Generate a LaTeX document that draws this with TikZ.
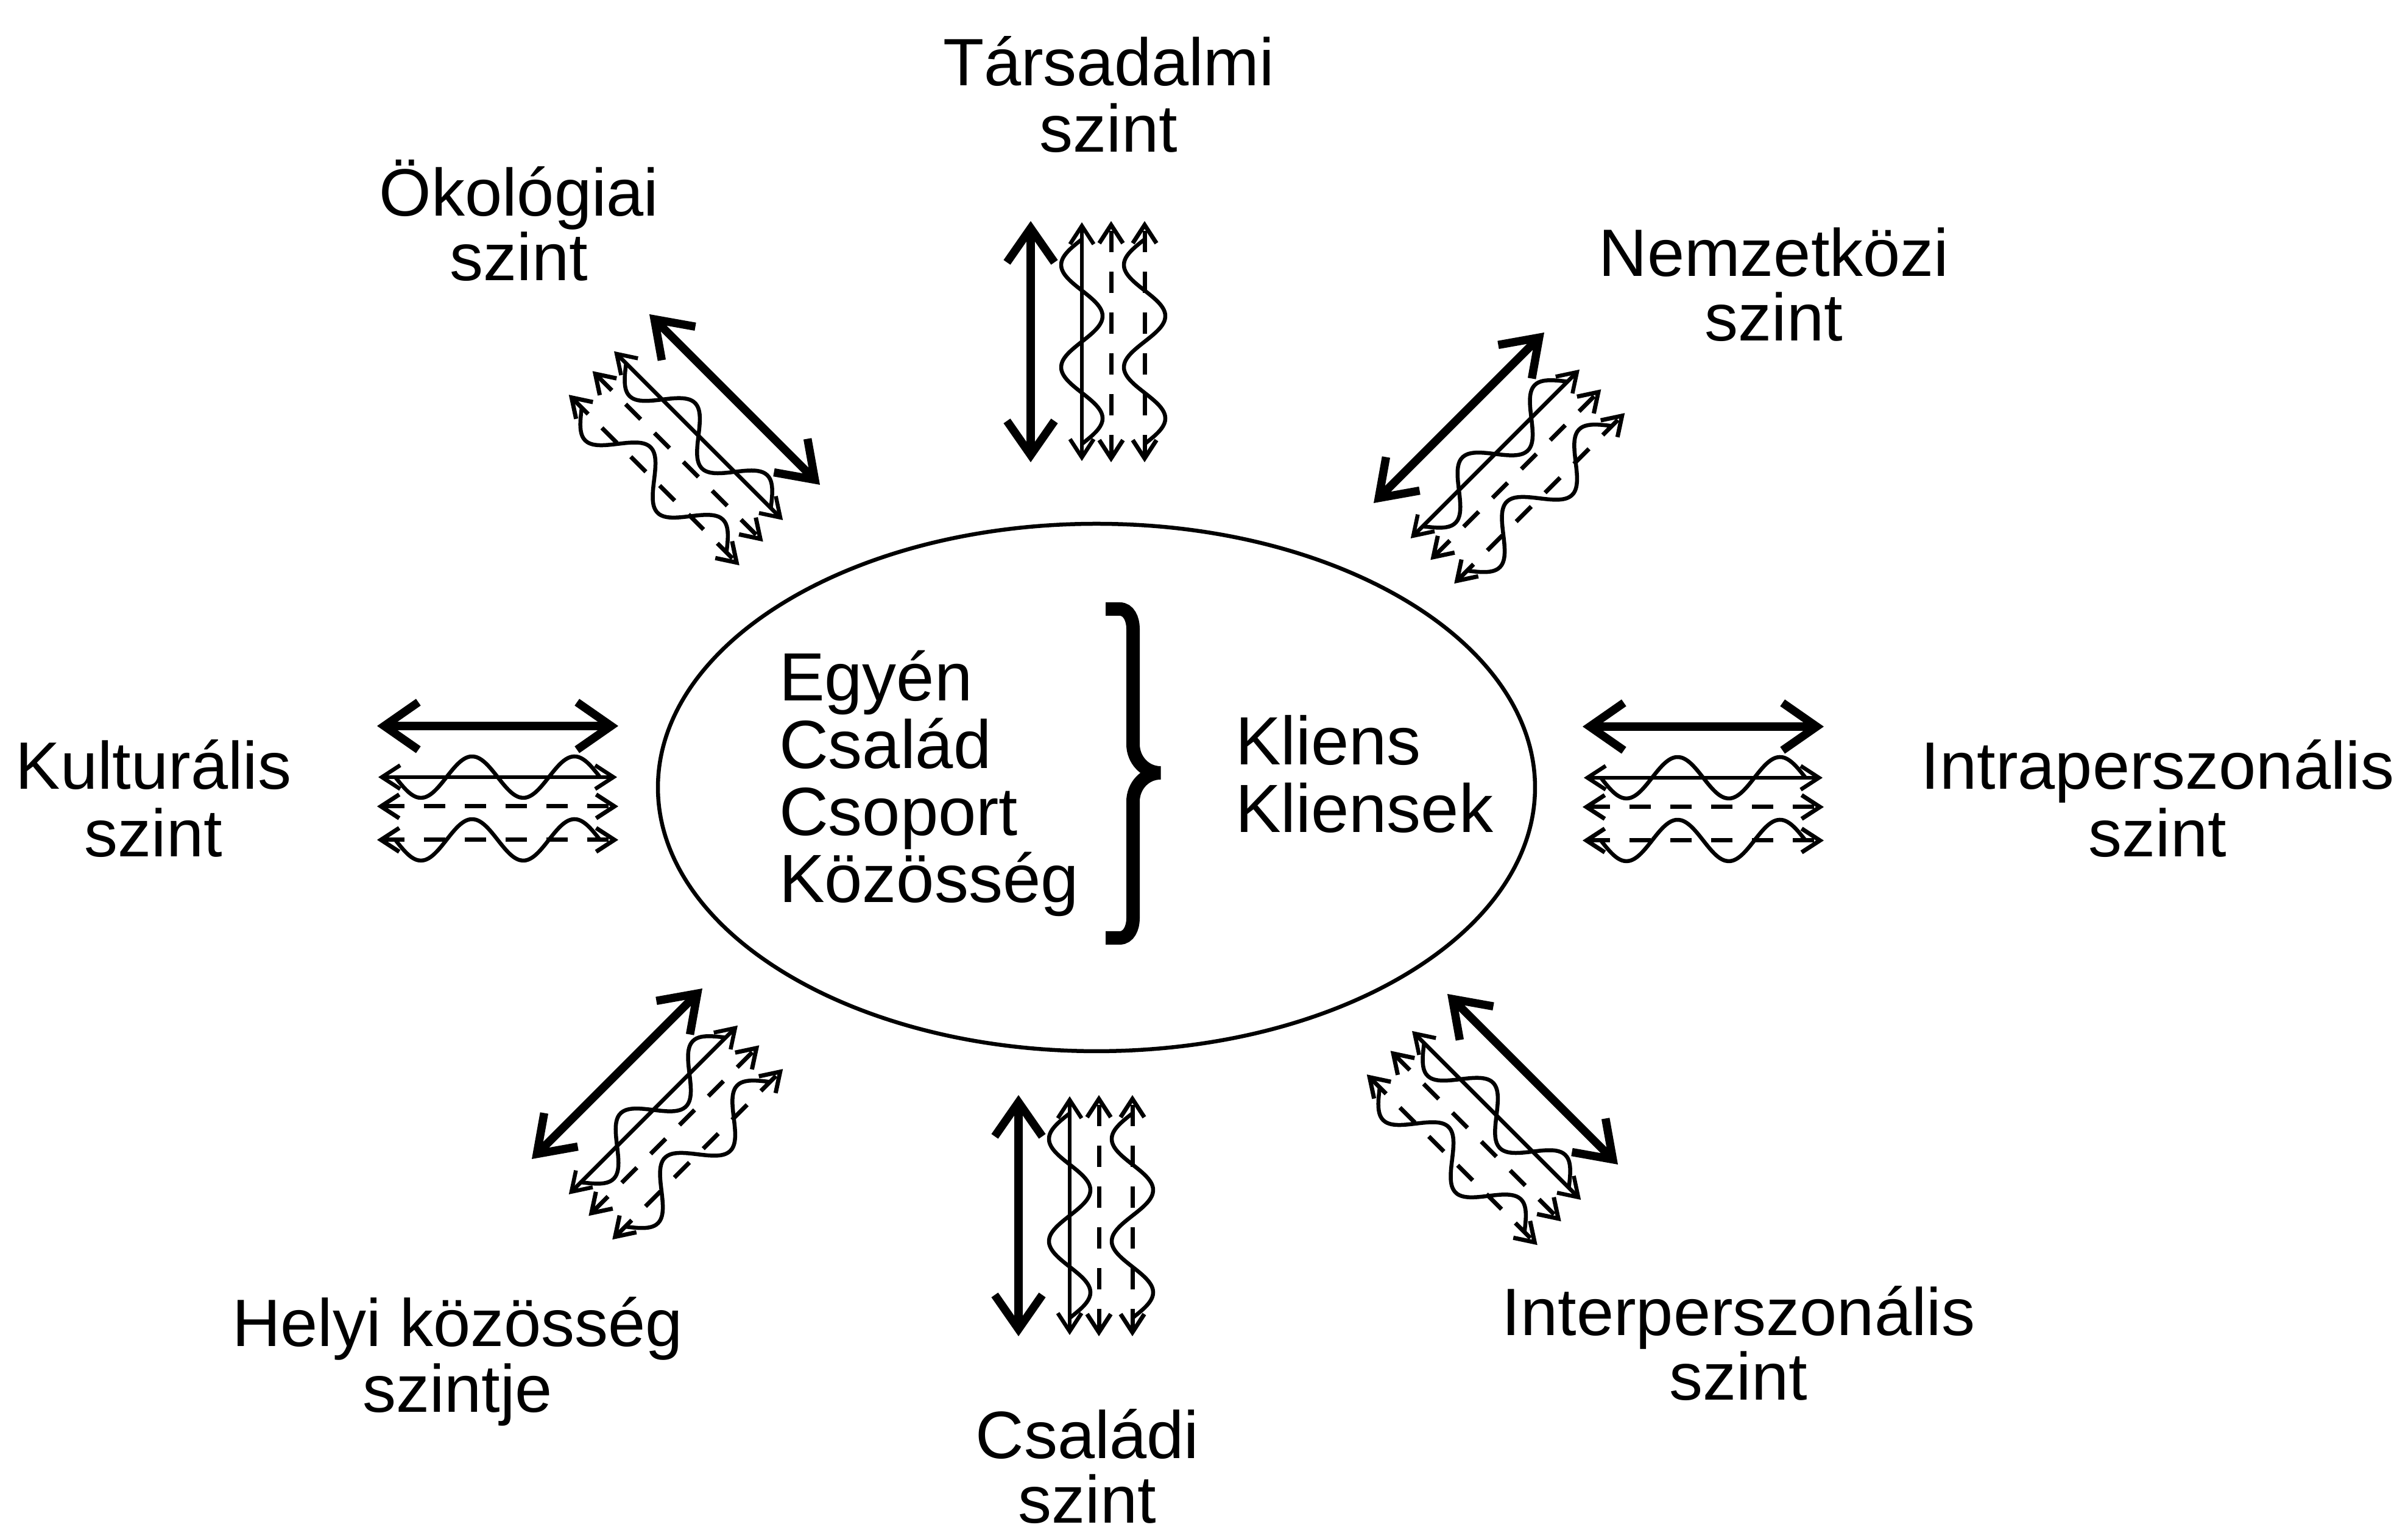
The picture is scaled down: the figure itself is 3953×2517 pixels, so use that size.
\documentclass[tikz,border=0pt]{standalone}
\usepackage{fontspec}
\setmainfont{Liberation Sans}
\usetikzlibrary{arrows.meta,shapes.geometric}
\tikzset{
  thickarr/.style={line width=1.35pt,
    {Straight Barb[length=5.6pt,width=7.8pt]}-{Straight Barb[length=5.6pt,width=7.8pt]}},
  thinarr/.style={line width=0.65pt,
    {Straight Barb[length=3pt,width=3.9pt]}-{Straight Barb[length=3pt,width=3.9pt]}},
  dasharr/.style={thinarr, line width=0.7pt, dash pattern=on 3.5pt off 3.2pt},
  wavy/.style={line width=0.65pt, domain=-168:168, samples=80, smooth, variable=\t},
  lbl/.style={font=\fontsize{11pt}{13pt}\selectfont, inner sep=0pt, anchor=base},
  ctext/.style={font=\fontsize{11.2pt}{13pt}\selectfont, inner sep=0pt, anchor=base west},
}
\newcommand\arrgroup[2]{%
  \begin{scope}[shift={#1}, rotate=#2]
    \draw[thickarr] (-198,0) -- (198,0);
    \draw[thinarr] (-196,84) -- (196,84);
    \draw[wavy] plot (\t, {84+34*sin((\t+168)/168*360)});
    \draw[dasharr] (-198,132) -- (198,132);
    \draw[dasharr] (-198,187) -- (198,187);
    \draw[wavy] plot (\t, {187+34*sin((\t+168)/168*360)});
  \end{scope}}
\begin{document}
\begin{tikzpicture}[x=0.1pt, y=-0.1pt]
\useasboundingbox (0,0) rectangle (3953,2517);
\fill[white] (0,0) rectangle (3953,2517);

% central ellipse
\node[draw, line width=0.65pt, ellipse, minimum width=144pt, minimum height=86.6pt, inner sep=0pt] (ell) at (1800,1293) {};

% inner texts
\node[ctext] (egyen) at (1277,1151) {Egyén};
\node[ctext] (csalad) at (1277,1262) {Család};
\node[ctext] (csoport) at (1277,1372) {Csoport};
\node[ctext] (kozosseg) at (1277,1482) {Közösség};
\node[ctext] (kliens) at (2026,1256) {Kliens};
\node[ctext] (kliensek) at (2026,1367) {Kliensek};

% brace
\draw[line width=2.2pt, line cap=butt] (1815,1000) -- (1838,1000) to[out=0,in=90] (1860,1032)
  -- (1860,1222) to[out=-90,in=180] (1905,1269) to[out=180,in=90] (1860,1316)
  -- (1860,1508) to[out=-90,in=0] (1838,1540) -- (1815,1540);

% arrow groups
\arrgroup{(1692,561)}{90}
\arrgroup{(1672,1996)}{90}
\arrgroup{(817,1192)}{0}
\arrgroup{(2796,1193)}{0}
\arrgroup{(1206,656)}{-45}
\arrgroup{(2395,686)}{45}
\arrgroup{(1013,1763)}{45}
\arrgroup{(2516,1772)}{-45}

% labels
\node[lbl] (tars1) at (1820,141) {Társadalmi};
\node[lbl] (tars2) at (1820,250) {szint};
\node[lbl] (ok1) at (852,355) {Ökológiai};
\node[lbl] (ok2) at (852,461) {szint};
\node[lbl] (nem1) at (2912,454) {Nemzetközi};
\node[lbl] (nem2) at (2912,560) {szint};
\node[lbl] (kul1) at (252,1296) {Kulturális};
\node[lbl] (kul2) at (252,1407) {szint};
\node[lbl] (intra1) at (3542,1296) {Intraperszonális};
\node[lbl] (intra2) at (3542,1407) {szint};
\node[lbl] (helyi1) at (751,2211) {Helyi közösség};
\node[lbl] (helyi2) at (751,2319) {szintje};
\node[lbl] (csal1) at (1785,2395) {Családi};
\node[lbl] (csal2) at (1785,2501) {szint};
\node[lbl] (inter1) at (2854,2193) {Interperszonális};
\node[lbl] (inter2) at (2854,2299) {szint};
\end{tikzpicture}
\end{document}
